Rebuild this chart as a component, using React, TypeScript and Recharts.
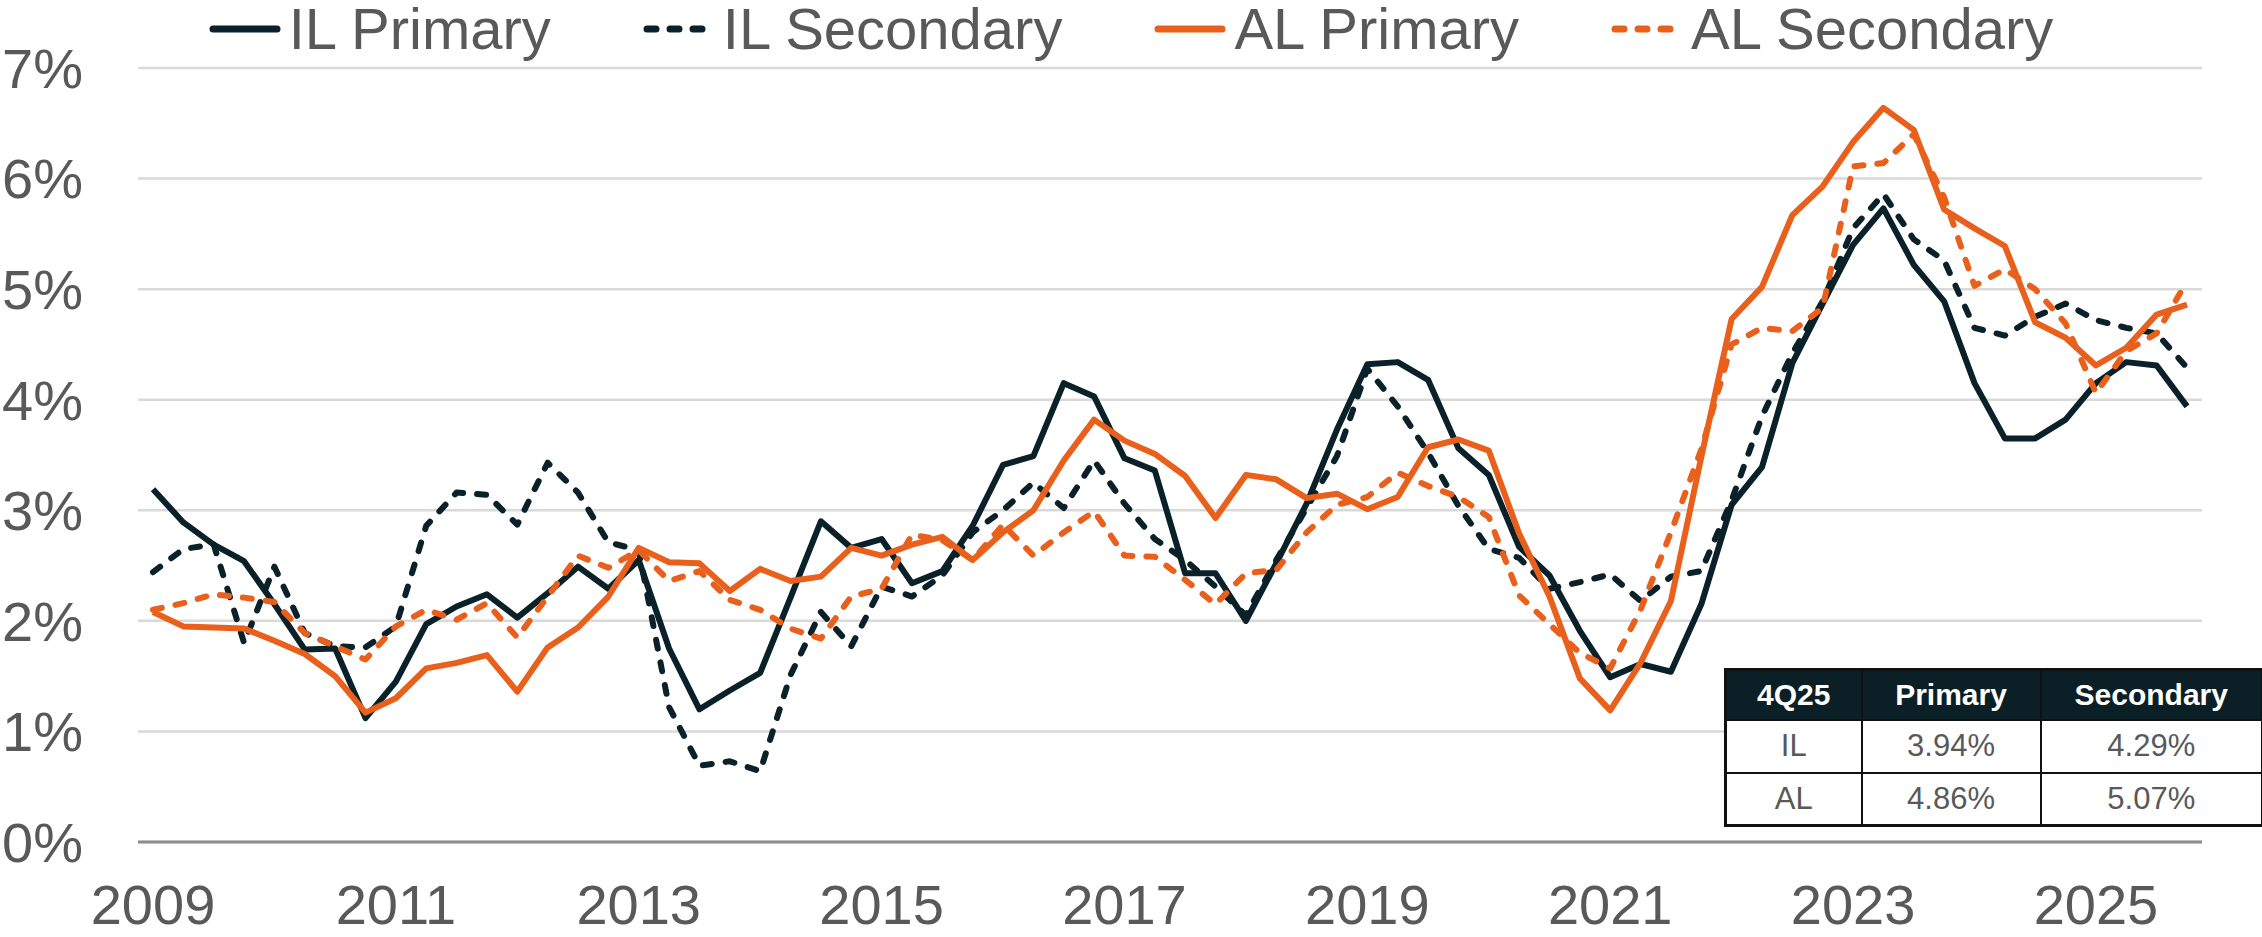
import React from 'react';
import { LineChart, Line, XAxis, YAxis, CartesianGrid, Legend } from 'recharts';

const years = [2009, 2010, 2011, 2012, 2013, 2014, 2015, 2016, 2017, 2018, 2019, 2020, 2021, 2022, 2023, 2024, 2025];
const quarterNames = ['Q1', 'Q2', 'Q3', 'Q4'];
const quarters = years.flatMap((y) => quarterNames.map((q) => `${y} ${q}`));

const ilPrimary = [
  3.19, 2.89, 2.69, 2.54, 2.15, 1.74, 1.75, 1.12, 1.45, 1.97, 2.13, 2.24, 2.03, 2.25, 2.49, 2.29,
  2.55, 1.75, 1.2, 1.37, 1.53, 2.21, 2.9, 2.66, 2.74, 2.34, 2.45, 2.86, 3.41, 3.49, 4.15, 4.03,
  3.47, 3.36, 2.43, 2.43, 2.0, 2.52, 3.06, 3.73, 4.32, 4.34, 4.18, 3.56, 3.32, 2.67, 2.41, 1.91,
  1.49, 1.61, 1.54, 2.15, 3.05, 3.39, 4.33, 4.87, 5.4, 5.73, 5.22, 4.89, 4.15, 3.65, 3.65, 3.82,
  4.15, 4.34, 4.31, 3.94,
];
const ilSecondary = [
  2.44, 2.65, 2.69, 1.8, 2.49, 1.89, 1.77, 1.76, 1.95, 2.86, 3.16, 3.14, 2.87, 3.43, 3.16, 2.71,
  2.64, 1.22, 0.69, 0.73, 0.64, 1.51, 2.08, 1.77, 2.31, 2.22, 2.41, 2.8, 3.0, 3.25, 3.02, 3.45,
  3.06, 2.74, 2.55, 2.31, 2.05, 2.55, 3.02, 3.49, 4.28, 3.94, 3.52, 3.04, 2.65, 2.57, 2.29, 2.35,
  2.42, 2.18, 2.4, 2.45, 3.09, 3.85, 4.42, 4.89, 5.55, 5.86, 5.45, 5.26, 4.65, 4.58, 4.75, 4.87,
  4.72, 4.65, 4.6, 4.29,
];
const alPrimary = [
  2.08, 1.95, 1.94, 1.93, 1.82, 1.7, 1.5, 1.17, 1.3, 1.57, 1.62, 1.69, 1.36, 1.76, 1.94, 2.22,
  2.66, 2.53, 2.52, 2.27, 2.47, 2.36, 2.4, 2.66, 2.59, 2.69, 2.76, 2.55, 2.8, 3.0, 3.45, 3.82,
  3.63, 3.51, 3.31, 2.93, 3.32, 3.28, 3.11, 3.15, 3.01, 3.12, 3.57, 3.64, 3.54, 2.79, 2.22, 1.48,
  1.19, 1.62, 2.18, 3.48, 4.73, 5.02, 5.67, 5.93, 6.33, 6.64, 6.44, 5.72, 5.55, 5.39, 4.7, 4.56,
  4.31, 4.47, 4.77, 4.86,
];
const alSecondary = [
  2.1, 2.16, 2.24, 2.21, 2.17, 1.89, 1.77, 1.65, 1.95, 2.1, 2.01, 2.16, 1.85, 2.22, 2.59, 2.48,
  2.64, 2.36, 2.45, 2.19, 2.1, 1.93, 1.84, 2.22, 2.29, 2.78, 2.73, 2.55, 2.87, 2.59, 2.8, 2.99,
  2.59, 2.58, 2.37, 2.15, 2.43, 2.46, 2.8, 3.05, 3.12, 3.34, 3.22, 3.12, 2.94, 2.23, 1.97, 1.71,
  1.57, 2.1, 2.8, 3.55, 4.5, 4.65, 4.62, 4.83, 6.11, 6.14, 6.4, 5.83, 5.03, 5.18, 5.0, 4.69,
  4.06, 4.44, 4.6, 5.07,
];

const yTicks = [0, 1, 2, 3, 4, 5, 6, 7];
const legendOrder = ['IL Primary', 'IL Secondary', 'AL Primary', 'AL Secondary'];

const tableHeader = ['4Q25', 'Primary', 'Secondary'];
const tableRows = [
  ['IL', '3.94%', '4.29%'],
  ['AL', '4.86%', '5.07%'],
];

const DARK = '#0a2129';
const ORANGE = '#e9601c';
const GREY_TEXT = '#595959';
const FONT = '"Liberation Sans", Arial, sans-serif';

const data = quarters.map((q, i) => ({
  q,
  ilPrimary: ilPrimary[i],
  ilSecondary: ilSecondary[i],
  alPrimary: alPrimary[i],
  alSecondary: alSecondary[i],
}));

const renderLegend = (props: any) => {
  const items = [...(props.payload || [])].sort(
    (a: any, b: any) => legendOrder.indexOf(a.value) - legendOrder.indexOf(b.value)
  );
  return (
    <div
      style={{
        display: 'flex',
        justifyContent: 'center',
        alignItems: 'center',
        gap: 92,
        height: 58,
        fontFamily: FONT,
        fontSize: 58,
        lineHeight: '58px',
        color: GREY_TEXT,
      }}
    >
      {items.map((entry: any) => (
        <div key={entry.value} style={{ display: 'flex', alignItems: 'center' }}>
          <svg width={72} height={58} style={{ marginRight: 8 }}>
            <line
              x1={4}
              x2={68}
              y1={29}
              y2={29}
              stroke={entry.color}
              strokeWidth={7}
              strokeLinecap="round"
              strokeDasharray={entry.payload?.strokeDasharray}
            />
          </svg>
          <span>{entry.value}</span>
        </div>
      ))}
    </div>
  );
};

const cellBase: React.CSSProperties = {
  border: '2px solid #111',
  textAlign: 'center',
  padding: 0,
};

export default function App() {
  return (
    <div style={{ position: 'absolute', left: 0, top: 0, width: 2262, height: 937, background: '#fff' }}>
      <LineChart width={2262} height={937} data={data} margin={{ top: 68, right: 60, left: 0, bottom: 0 }}>
        <CartesianGrid vertical={false} stroke="#d9d9d9" strokeWidth={2.5} />
        <XAxis
          dataKey="q"
          interval={7}
          height={95}
          padding={{ left: 15, right: 15 }}
          tickLine={false}
          tickSize={0}
          tickMargin={42}
          axisLine={{ stroke: '#8c8c8c', strokeWidth: 3 }}
          tick={{ fill: GREY_TEXT, fontSize: 56, fontFamily: FONT }}
          tickFormatter={(v: string) => v.slice(0, 4)}
        />
        <YAxis
          width={138}
          domain={[0, 7]}
          ticks={yTicks}
          axisLine={false}
          tickLine={false}
          tickSize={0}
          tickMargin={55}
          tick={{ fill: GREY_TEXT, fontSize: 56, fontFamily: FONT }}
          tickFormatter={(v: number) => `${v}%`}
        />
        <Legend
          layout="horizontal"
          verticalAlign="middle"
          align="center"
          wrapperStyle={{ top: 0, left: 0, width: 2262 }}
          content={renderLegend}
        />
        <Line
          type="linear"
          dataKey="ilPrimary"
          name="IL Primary"
          stroke={DARK}
          strokeWidth={6}
          strokeLinejoin="round"
          dot={false}
          isAnimationActive={false}
        />
        <Line
          type="linear"
          dataKey="ilSecondary"
          name="IL Secondary"
          stroke={DARK}
          strokeWidth={6}
          strokeDasharray="9 14"
          strokeLinecap="round"
          strokeLinejoin="round"
          dot={false}
          isAnimationActive={false}
        />
        <Line
          type="linear"
          dataKey="alPrimary"
          name="AL Primary"
          stroke={ORANGE}
          strokeWidth={6}
          strokeLinejoin="round"
          dot={false}
          isAnimationActive={false}
        />
        <Line
          type="linear"
          dataKey="alSecondary"
          name="AL Secondary"
          stroke={ORANGE}
          strokeWidth={6}
          strokeDasharray="9 14"
          strokeLinecap="round"
          strokeLinejoin="round"
          dot={false}
          isAnimationActive={false}
        />
      </LineChart>

      <table
        style={{
          position: 'absolute',
          left: 1724,
          top: 668,
          width: 540,
          borderCollapse: 'collapse',
          border: '3px solid #111',
          background: '#fff',
          fontFamily: FONT,
        }}
      >
        <colgroup>
          <col style={{ width: 137 }} />
          <col style={{ width: 180 }} />
          <col style={{ width: 223 }} />
        </colgroup>
        <thead>
          <tr style={{ height: 50, background: '#0b1f26' }}>
            {tableHeader.map((h) => (
              <th key={h} style={{ ...cellBase, color: '#fff', fontSize: 30, fontWeight: 700 }}>
                {h}
              </th>
            ))}
          </tr>
        </thead>
        <tbody>
          {tableRows.map((row) => (
            <tr key={row[0]} style={{ height: 53 }}>
              {row.map((cell, j) => (
                <td key={j} style={{ ...cellBase, color: GREY_TEXT, fontSize: 31 }}>
                  {cell}
                </td>
              ))}
            </tr>
          ))}
        </tbody>
      </table>
    </div>
  );
}
